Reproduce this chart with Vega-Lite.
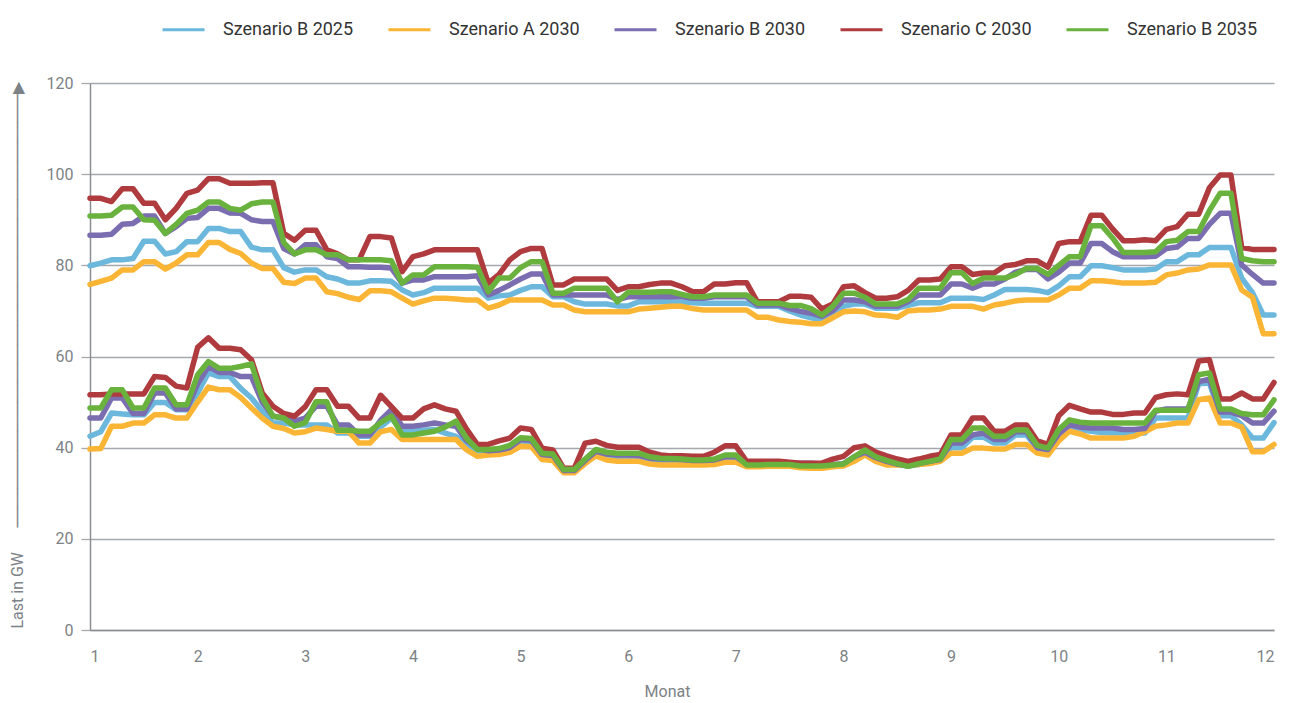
{
"$schema": "https://vega.github.io/schema/vega-lite/v6.json",
"width": 1184, "height": 547,
"autosize": {"type": "none"},
"padding": {"left": 90, "top": 83, "right": 26, "bottom": 73},
"background": "white",
"config": {"view": {"stroke": null}, "font": "Roboto"},
"datasets": {
"upper": [
{"m":1.0,"B25":79.9,"A30":75.8,"B30":86.6,"C30":94.7,"B35":90.8},
{"m":1.1,"B25":80.5,"A30":76.5,"B30":86.6,"C30":94.7,"B35":90.8},
{"m":1.2,"B25":81.2,"A30":77.2,"B30":86.8,"C30":94.0,"B35":91.0},
{"m":1.3,"B25":81.2,"A30":79.0,"B30":89.0,"C30":96.8,"B35":92.8},
{"m":1.4,"B25":81.5,"A30":79.0,"B30":89.2,"C30":96.8,"B35":92.8},
{"m":1.5,"B25":85.3,"A30":80.8,"B30":90.8,"C30":93.6,"B35":90.0},
{"m":1.6,"B25":85.3,"A30":80.8,"B30":90.8,"C30":93.6,"B35":89.9},
{"m":1.7,"B25":82.5,"A30":79.2,"B30":87.0,"C30":90.0,"B35":87.0},
{"m":1.8,"B25":83.0,"A30":80.5,"B30":88.5,"C30":92.5,"B35":89.0},
{"m":1.9,"B25":85.2,"A30":82.3,"B30":90.3,"C30":95.8,"B35":91.4},
{"m":2.0,"B25":85.2,"A30":82.3,"B30":90.5,"C30":96.5,"B35":92.1},
{"m":2.1,"B25":88.1,"A30":85.0,"B30":92.5,"C30":99.0,"B35":93.9},
{"m":2.2,"B25":88.1,"A30":85.0,"B30":92.5,"C30":99.0,"B35":93.9},
{"m":2.3,"B25":87.4,"A30":83.5,"B30":91.5,"C30":98.0,"B35":92.5},
{"m":2.4,"B25":87.4,"A30":82.6,"B30":91.4,"C30":98.0,"B35":92.1},
{"m":2.5,"B25":84.0,"A30":80.5,"B30":90.0,"C30":98.0,"B35":93.5},
{"m":2.6,"B25":83.4,"A30":79.3,"B30":89.6,"C30":98.1,"B35":93.9},
{"m":2.7,"B25":83.4,"A30":79.3,"B30":89.6,"C30":98.1,"B35":93.9},
{"m":2.8,"B25":79.5,"A30":76.3,"B30":83.7,"C30":87.0,"B35":85.0},
{"m":2.9,"B25":78.5,"A30":76.0,"B30":82.5,"C30":85.5,"B35":82.5},
{"m":3.0,"B25":79.0,"A30":77.2,"B30":84.5,"C30":87.7,"B35":83.4},
{"m":3.1,"B25":79.0,"A30":77.2,"B30":84.5,"C30":87.7,"B35":83.4},
{"m":3.2,"B25":77.5,"A30":74.2,"B30":81.9,"C30":83.4,"B35":82.3},
{"m":3.3,"B25":77.0,"A30":73.8,"B30":81.5,"C30":82.5,"B35":82.3},
{"m":3.4,"B25":76.1,"A30":73.0,"B30":79.7,"C30":81.2,"B35":81.2},
{"m":3.5,"B25":76.1,"A30":72.5,"B30":79.7,"C30":81.2,"B35":81.2},
{"m":3.6,"B25":76.6,"A30":74.4,"B30":79.6,"C30":86.3,"B35":81.2},
{"m":3.7,"B25":76.6,"A30":74.4,"B30":79.6,"C30":86.3,"B35":81.2},
{"m":3.8,"B25":76.5,"A30":74.2,"B30":79.4,"C30":86.0,"B35":81.0},
{"m":3.9,"B25":74.6,"A30":72.8,"B30":76.1,"C30":78.6,"B35":76.1},
{"m":4.0,"B25":73.5,"A30":71.5,"B30":76.8,"C30":81.9,"B35":77.9},
{"m":4.1,"B25":74.0,"A30":72.2,"B30":76.8,"C30":82.5,"B35":77.9},
{"m":4.2,"B25":75.0,"A30":72.8,"B30":77.5,"C30":83.4,"B35":79.7},
{"m":4.3,"B25":75.0,"A30":72.8,"B30":77.5,"C30":83.4,"B35":79.7},
{"m":4.4,"B25":75.0,"A30":72.6,"B30":77.5,"C30":83.4,"B35":79.7},
{"m":4.5,"B25":75.0,"A30":72.4,"B30":77.5,"C30":83.4,"B35":79.7},
{"m":4.6,"B25":75.0,"A30":72.4,"B30":77.7,"C30":83.4,"B35":79.6},
{"m":4.7,"B25":72.8,"A30":70.6,"B30":73.5,"C30":76.1,"B35":74.2},
{"m":4.8,"B25":73.3,"A30":71.3,"B30":74.5,"C30":78.0,"B35":77.2},
{"m":4.9,"B25":73.5,"A30":72.4,"B30":75.7,"C30":81.2,"B35":77.2},
{"m":5.0,"B25":74.5,"A30":72.4,"B30":77.0,"C30":83.0,"B35":79.5},
{"m":5.1,"B25":75.3,"A30":72.4,"B30":78.1,"C30":83.7,"B35":80.8},
{"m":5.2,"B25":75.3,"A30":72.4,"B30":78.1,"C30":83.7,"B35":80.8},
{"m":5.3,"B25":73.1,"A30":71.3,"B30":73.5,"C30":75.7,"B35":73.9},
{"m":5.4,"B25":73.1,"A30":71.3,"B30":73.5,"C30":75.7,"B35":73.9},
{"m":5.5,"B25":72.0,"A30":70.2,"B30":73.5,"C30":77.0,"B35":75.0},
{"m":5.6,"B25":71.5,"A30":69.8,"B30":73.5,"C30":77.0,"B35":75.0},
{"m":5.7,"B25":71.5,"A30":69.8,"B30":73.5,"C30":77.0,"B35":75.0},
{"m":5.8,"B25":71.5,"A30":69.8,"B30":73.5,"C30":77.0,"B35":75.0},
{"m":5.9,"B25":71.1,"A30":69.8,"B30":72.5,"C30":74.5,"B35":72.0},
{"m":6.0,"B25":71.1,"A30":69.8,"B30":73.1,"C30":75.3,"B35":74.1},
{"m":6.1,"B25":72.0,"A30":70.4,"B30":73.1,"C30":75.3,"B35":74.1},
{"m":6.2,"B25":72.0,"A30":70.6,"B30":73.1,"C30":75.8,"B35":74.1},
{"m":6.3,"B25":72.0,"A30":70.8,"B30":73.1,"C30":76.1,"B35":74.2},
{"m":6.4,"B25":72.0,"A30":71.0,"B30":73.1,"C30":76.1,"B35":74.2},
{"m":6.5,"B25":71.9,"A30":71.0,"B30":73.1,"C30":75.3,"B35":73.6},
{"m":6.6,"B25":71.8,"A30":70.5,"B30":72.8,"C30":74.2,"B35":73.1},
{"m":6.7,"B25":71.7,"A30":70.2,"B30":72.8,"C30":74.2,"B35":73.1},
{"m":6.8,"B25":71.7,"A30":70.2,"B30":73.1,"C30":75.9,"B35":73.5},
{"m":6.9,"B25":71.7,"A30":70.2,"B30":73.1,"C30":75.9,"B35":73.5},
{"m":7.0,"B25":71.7,"A30":70.2,"B30":73.1,"C30":76.2,"B35":73.5},
{"m":7.1,"B25":71.7,"A30":70.2,"B30":73.1,"C30":76.2,"B35":73.5},
{"m":7.2,"B25":71.0,"A30":68.6,"B30":71.3,"C30":72.0,"B35":71.7},
{"m":7.3,"B25":71.0,"A30":68.6,"B30":71.3,"C30":72.0,"B35":71.7},
{"m":7.4,"B25":71.0,"A30":68.0,"B30":71.3,"C30":72.0,"B35":71.7},
{"m":7.5,"B25":70.0,"A30":67.7,"B30":70.5,"C30":73.2,"B35":71.2},
{"m":7.6,"B25":69.1,"A30":67.5,"B30":69.9,"C30":73.2,"B35":71.2},
{"m":7.7,"B25":68.5,"A30":67.2,"B30":69.5,"C30":73.0,"B35":70.5},
{"m":7.8,"B25":68.0,"A30":67.2,"B30":68.8,"C30":70.4,"B35":69.1},
{"m":7.9,"B25":69.0,"A30":68.5,"B30":70.0,"C30":71.5,"B35":71.0},
{"m":8.0,"B25":71.0,"A30":69.8,"B30":72.4,"C30":75.3,"B35":73.9},
{"m":8.1,"B25":71.5,"A30":70.0,"B30":72.4,"C30":75.5,"B35":73.9},
{"m":8.2,"B25":71.5,"A30":69.8,"B30":72.0,"C30":74.0,"B35":73.0},
{"m":8.3,"B25":70.6,"A30":69.1,"B30":71.0,"C30":72.8,"B35":71.5},
{"m":8.4,"B25":70.6,"A30":69.0,"B30":71.0,"C30":72.8,"B35":71.5},
{"m":8.5,"B25":70.6,"A30":68.6,"B30":71.0,"C30":73.1,"B35":71.5},
{"m":8.6,"B25":71.2,"A30":70.0,"B30":72.0,"C30":74.5,"B35":72.5},
{"m":8.7,"B25":71.8,"A30":70.2,"B30":73.5,"C30":76.8,"B35":75.0},
{"m":8.8,"B25":71.8,"A30":70.2,"B30":73.5,"C30":76.8,"B35":75.0},
{"m":8.9,"B25":71.8,"A30":70.4,"B30":73.5,"C30":77.0,"B35":75.0},
{"m":9.0,"B25":72.8,"A30":71.0,"B30":75.9,"C30":79.7,"B35":78.4},
{"m":9.1,"B25":72.8,"A30":71.0,"B30":75.9,"C30":79.7,"B35":78.4},
{"m":9.2,"B25":72.8,"A30":71.0,"B30":75.0,"C30":78.0,"B35":76.0},
{"m":9.3,"B25":72.5,"A30":70.4,"B30":75.9,"C30":78.3,"B35":77.2},
{"m":9.4,"B25":73.5,"A30":71.3,"B30":75.9,"C30":78.3,"B35":77.2},
{"m":9.5,"B25":74.7,"A30":71.7,"B30":77.0,"C30":79.9,"B35":77.2},
{"m":9.6,"B25":74.7,"A30":72.2,"B30":78.5,"C30":80.2,"B35":78.0},
{"m":9.7,"B25":74.7,"A30":72.4,"B30":79.1,"C30":81.0,"B35":79.3},
{"m":9.8,"B25":74.5,"A30":72.4,"B30":79.1,"C30":81.0,"B35":79.3},
{"m":9.9,"B25":74.0,"A30":72.4,"B30":77.0,"C30":79.6,"B35":78.0},
{"m":10.0,"B25":75.5,"A30":73.5,"B30":78.5,"C30":84.8,"B35":80.0},
{"m":10.1,"B25":77.5,"A30":75.0,"B30":80.5,"C30":85.2,"B35":81.9},
{"m":10.2,"B25":77.5,"A30":75.0,"B30":80.5,"C30":85.2,"B35":81.9},
{"m":10.3,"B25":79.9,"A30":76.6,"B30":84.8,"C30":91.0,"B35":88.7},
{"m":10.4,"B25":79.9,"A30":76.6,"B30":84.8,"C30":91.0,"B35":88.7},
{"m":10.5,"B25":79.5,"A30":76.4,"B30":83.0,"C30":88.0,"B35":86.0},
{"m":10.6,"B25":79.0,"A30":76.1,"B30":81.9,"C30":85.4,"B35":82.8},
{"m":10.7,"B25":79.0,"A30":76.1,"B30":81.9,"C30":85.4,"B35":82.8},
{"m":10.8,"B25":79.0,"A30":76.1,"B30":81.9,"C30":85.6,"B35":82.8},
{"m":10.9,"B25":79.2,"A30":76.3,"B30":82.0,"C30":85.4,"B35":83.0},
{"m":11.0,"B25":80.8,"A30":77.9,"B30":83.7,"C30":87.9,"B35":85.2},
{"m":11.1,"B25":80.8,"A30":78.3,"B30":84.0,"C30":88.5,"B35":85.5},
{"m":11.2,"B25":82.3,"A30":79.0,"B30":85.9,"C30":91.2,"B35":87.4},
{"m":11.3,"B25":82.3,"A30":79.2,"B30":85.9,"C30":91.2,"B35":87.4},
{"m":11.4,"B25":83.9,"A30":80.1,"B30":89.0,"C30":97.0,"B35":92.0},
{"m":11.5,"B25":83.9,"A30":80.1,"B30":91.4,"C30":99.8,"B35":95.8},
{"m":11.6,"B25":83.9,"A30":80.1,"B30":91.4,"C30":99.8,"B35":95.8},
{"m":11.7,"B25":77.2,"A30":74.6,"B30":80.1,"C30":83.9,"B35":81.5},
{"m":11.8,"B25":74.0,"A30":73.0,"B30":78.0,"C30":83.5,"B35":81.0},
{"m":11.9,"B25":69.1,"A30":65.0,"B30":76.1,"C30":83.5,"B35":80.8},
{"m":12.0,"B25":69.1,"A30":65.0,"B30":76.1,"C30":83.5,"B35":80.8}
],
"lower": [
{"m":1.0,"B25":42.5,"A30":39.7,"B30":46.5,"C30":51.6,"B35":48.7},
{"m":1.1,"B25":43.5,"A30":39.8,"B30":46.5,"C30":51.6,"B35":48.7},
{"m":1.2,"B25":47.6,"A30":44.7,"B30":50.9,"C30":51.8,"B35":52.7},
{"m":1.3,"B25":47.4,"A30":44.7,"B30":50.9,"C30":51.8,"B35":52.7},
{"m":1.4,"B25":47.2,"A30":45.4,"B30":47.5,"C30":51.8,"B35":48.7},
{"m":1.5,"B25":47.2,"A30":45.4,"B30":47.5,"C30":51.8,"B35":48.7},
{"m":1.6,"B25":49.9,"A30":47.2,"B30":52.0,"C30":55.6,"B35":53.1},
{"m":1.7,"B25":49.9,"A30":47.2,"B30":52.0,"C30":55.4,"B35":53.1},
{"m":1.8,"B25":48.3,"A30":46.5,"B30":48.5,"C30":53.5,"B35":49.4},
{"m":1.9,"B25":48.3,"A30":46.5,"B30":48.5,"C30":53.1,"B35":49.4},
{"m":2.0,"B25":52.0,"A30":50.0,"B30":54.0,"C30":62.0,"B35":56.0},
{"m":2.1,"B25":56.4,"A30":53.3,"B30":57.8,"C30":64.1,"B35":58.9},
{"m":2.2,"B25":55.6,"A30":52.7,"B30":56.5,"C30":61.8,"B35":57.4},
{"m":2.3,"B25":55.6,"A30":52.7,"B30":56.5,"C30":61.8,"B35":57.4},
{"m":2.4,"B25":53.0,"A30":51.0,"B30":55.6,"C30":61.5,"B35":57.8},
{"m":2.5,"B25":50.9,"A30":48.7,"B30":55.6,"C30":59.3,"B35":58.4},
{"m":2.6,"B25":48.0,"A30":46.5,"B30":50.0,"C30":52.0,"B35":51.0},
{"m":2.7,"B25":45.4,"A30":44.7,"B30":46.9,"C30":49.1,"B35":46.9},
{"m":2.8,"B25":45.4,"A30":44.2,"B30":46.5,"C30":47.5,"B35":46.5},
{"m":2.9,"B25":45.0,"A30":43.2,"B30":45.8,"C30":46.9,"B35":44.7},
{"m":3.0,"B25":45.0,"A30":43.5,"B30":46.5,"C30":49.0,"B35":45.5},
{"m":3.1,"B25":45.0,"A30":44.3,"B30":49.1,"C30":52.7,"B35":50.1},
{"m":3.2,"B25":45.0,"A30":44.0,"B30":49.1,"C30":52.7,"B35":50.1},
{"m":3.3,"B25":43.2,"A30":43.6,"B30":45.0,"C30":49.1,"B35":43.8},
{"m":3.4,"B25":43.2,"A30":43.6,"B30":45.0,"C30":49.1,"B35":43.8},
{"m":3.5,"B25":42.5,"A30":41.0,"B30":42.8,"C30":46.5,"B35":43.6},
{"m":3.6,"B25":42.5,"A30":41.0,"B30":42.8,"C30":46.5,"B35":43.6},
{"m":3.7,"B25":44.5,"A30":43.5,"B30":46.0,"C30":51.5,"B35":45.5},
{"m":3.8,"B25":46.5,"A30":44.0,"B30":48.3,"C30":49.0,"B35":46.9},
{"m":3.9,"B25":43.6,"A30":41.8,"B30":44.7,"C30":46.5,"B35":42.8},
{"m":4.0,"B25":43.6,"A30":41.8,"B30":44.7,"C30":46.5,"B35":42.8},
{"m":4.1,"B25":43.8,"A30":41.8,"B30":45.0,"C30":48.5,"B35":43.2},
{"m":4.2,"B25":44.0,"A30":41.8,"B30":45.4,"C30":49.4,"B35":43.6},
{"m":4.3,"B25":43.2,"A30":41.8,"B30":45.0,"C30":48.5,"B35":44.5},
{"m":4.4,"B25":42.5,"A30":41.8,"B30":44.7,"C30":48.0,"B35":45.8},
{"m":4.5,"B25":40.5,"A30":39.5,"B30":41.5,"C30":44.0,"B35":42.0},
{"m":4.6,"B25":39.3,"A30":38.1,"B30":39.9,"C30":40.7,"B35":39.6},
{"m":4.7,"B25":39.0,"A30":38.4,"B30":39.3,"C30":40.7,"B35":39.6},
{"m":4.8,"B25":39.2,"A30":38.5,"B30":39.5,"C30":41.5,"B35":39.8},
{"m":4.9,"B25":39.8,"A30":39.0,"B30":40.0,"C30":42.1,"B35":40.5},
{"m":5.0,"B25":41.5,"A30":40.3,"B30":41.8,"C30":44.3,"B35":42.2},
{"m":5.1,"B25":41.2,"A30":40.2,"B30":41.6,"C30":44.0,"B35":42.0},
{"m":5.2,"B25":38.2,"A30":37.4,"B30":38.5,"C30":39.9,"B35":38.8},
{"m":5.3,"B25":38.0,"A30":37.2,"B30":38.3,"C30":39.5,"B35":38.6},
{"m":5.4,"B25":34.8,"A30":34.5,"B30":35.0,"C30":35.5,"B35":35.2},
{"m":5.5,"B25":34.8,"A30":34.5,"B30":35.0,"C30":35.5,"B35":35.2},
{"m":5.6,"B25":37.0,"A30":36.5,"B30":37.2,"C30":41.0,"B35":37.5},
{"m":5.7,"B25":38.8,"A30":38.2,"B30":39.2,"C30":41.4,"B35":39.6},
{"m":5.8,"B25":38.0,"A30":37.3,"B30":38.6,"C30":40.5,"B35":39.0},
{"m":5.9,"B25":37.8,"A30":37.0,"B30":38.4,"C30":40.1,"B35":38.8},
{"m":6.0,"B25":37.8,"A30":37.0,"B30":38.4,"C30":40.1,"B35":38.8},
{"m":6.1,"B25":37.6,"A30":37.0,"B30":38.3,"C30":40.1,"B35":38.8},
{"m":6.2,"B25":37.0,"A30":36.4,"B30":37.7,"C30":39.0,"B35":38.0},
{"m":6.3,"B25":37.0,"A30":36.2,"B30":37.5,"C30":38.4,"B35":37.7},
{"m":6.4,"B25":37.0,"A30":36.2,"B30":37.5,"C30":38.2,"B35":37.6},
{"m":6.5,"B25":36.9,"A30":36.2,"B30":37.4,"C30":38.2,"B35":37.5},
{"m":6.6,"B25":36.8,"A30":36.2,"B30":37.2,"C30":38.1,"B35":37.3},
{"m":6.7,"B25":36.8,"A30":36.2,"B30":37.2,"C30":38.1,"B35":37.3},
{"m":6.8,"B25":37.0,"A30":36.3,"B30":37.3,"C30":39.0,"B35":37.5},
{"m":6.9,"B25":37.6,"A30":36.8,"B30":38.0,"C30":40.4,"B35":38.4},
{"m":7.0,"B25":37.6,"A30":36.8,"B30":38.0,"C30":40.4,"B35":38.4},
{"m":7.1,"B25":36.2,"A30":35.8,"B30":36.4,"C30":37.0,"B35":36.2},
{"m":7.2,"B25":36.2,"A30":35.8,"B30":36.4,"C30":37.0,"B35":36.2},
{"m":7.3,"B25":36.3,"A30":35.9,"B30":36.5,"C30":37.0,"B35":36.3},
{"m":7.4,"B25":36.3,"A30":35.9,"B30":36.5,"C30":37.0,"B35":36.3},
{"m":7.5,"B25":36.3,"A30":35.9,"B30":36.5,"C30":36.8,"B35":36.3},
{"m":7.6,"B25":36.3,"A30":35.6,"B30":36.6,"C30":36.6,"B35":36.0},
{"m":7.7,"B25":36.2,"A30":35.5,"B30":36.6,"C30":36.6,"B35":36.0},
{"m":7.8,"B25":36.2,"A30":35.5,"B30":36.4,"C30":36.6,"B35":36.0},
{"m":7.9,"B25":36.2,"A30":35.8,"B30":36.3,"C30":37.5,"B35":36.2},
{"m":8.0,"B25":36.3,"A30":36.0,"B30":36.5,"C30":38.1,"B35":36.4},
{"m":8.1,"B25":37.6,"A30":37.0,"B30":38.0,"C30":40.0,"B35":38.0},
{"m":8.2,"B25":38.8,"A30":38.4,"B30":39.0,"C30":40.4,"B35":39.5},
{"m":8.3,"B25":37.5,"A30":37.0,"B30":37.8,"C30":39.0,"B35":38.0},
{"m":8.4,"B25":36.8,"A30":36.2,"B30":37.0,"C30":38.2,"B35":37.2},
{"m":8.5,"B25":36.3,"A30":36.2,"B30":36.4,"C30":37.5,"B35":36.5},
{"m":8.6,"B25":36.0,"A30":36.2,"B30":36.0,"C30":37.0,"B35":35.9},
{"m":8.7,"B25":36.3,"A30":36.3,"B30":36.5,"C30":37.5,"B35":36.5},
{"m":8.8,"B25":36.8,"A30":36.5,"B30":37.0,"C30":38.1,"B35":37.0},
{"m":8.9,"B25":37.2,"A30":37.0,"B30":37.4,"C30":38.5,"B35":37.5},
{"m":9.0,"B25":40.0,"A30":38.8,"B30":41.0,"C30":42.8,"B35":41.8},
{"m":9.1,"B25":40.0,"A30":38.8,"B30":41.0,"C30":42.8,"B35":41.8},
{"m":9.2,"B25":42.3,"A30":39.9,"B30":42.8,"C30":46.5,"B35":44.3},
{"m":9.3,"B25":42.3,"A30":39.9,"B30":43.2,"C30":46.5,"B35":44.3},
{"m":9.4,"B25":41.0,"A30":39.7,"B30":41.8,"C30":43.6,"B35":42.5},
{"m":9.5,"B25":41.0,"A30":39.7,"B30":41.8,"C30":43.6,"B35":42.5},
{"m":9.6,"B25":42.8,"A30":40.7,"B30":43.5,"C30":45.0,"B35":43.9},
{"m":9.7,"B25":42.8,"A30":40.7,"B30":43.5,"C30":45.0,"B35":43.9},
{"m":9.8,"B25":39.8,"A30":38.8,"B30":40.0,"C30":41.5,"B35":40.5},
{"m":9.9,"B25":39.3,"A30":38.4,"B30":39.6,"C30":40.7,"B35":39.9},
{"m":10.0,"B25":43.0,"A30":41.5,"B30":43.0,"C30":47.0,"B35":44.0},
{"m":10.1,"B25":44.8,"A30":43.6,"B30":45.0,"C30":49.3,"B35":46.1},
{"m":10.2,"B25":44.0,"A30":43.0,"B30":44.5,"C30":48.5,"B35":45.6},
{"m":10.3,"B25":43.6,"A30":42.1,"B30":44.3,"C30":47.8,"B35":45.4},
{"m":10.4,"B25":43.3,"A30":42.1,"B30":44.3,"C30":47.8,"B35":45.4},
{"m":10.5,"B25":43.2,"A30":42.1,"B30":44.3,"C30":47.3,"B35":45.4},
{"m":10.6,"B25":43.2,"A30":42.1,"B30":44.0,"C30":47.3,"B35":45.4},
{"m":10.7,"B25":43.2,"A30":42.5,"B30":44.0,"C30":47.6,"B35":45.4},
{"m":10.8,"B25":43.2,"A30":43.5,"B30":44.2,"C30":47.6,"B35":45.4},
{"m":10.9,"B25":46.5,"A30":44.7,"B30":48.0,"C30":51.0,"B35":48.2},
{"m":11.0,"B25":46.5,"A30":45.0,"B30":48.5,"C30":51.6,"B35":48.2},
{"m":11.1,"B25":46.5,"A30":45.4,"B30":48.5,"C30":51.8,"B35":48.2},
{"m":11.2,"B25":46.5,"A30":45.4,"B30":48.5,"C30":51.6,"B35":48.2},
{"m":11.3,"B25":54.0,"A30":50.5,"B30":54.5,"C30":59.0,"B35":56.0},
{"m":11.4,"B25":54.2,"A30":50.9,"B30":55.0,"C30":59.3,"B35":56.4},
{"m":11.5,"B25":47.0,"A30":45.4,"B30":47.8,"C30":50.7,"B35":48.5},
{"m":11.6,"B25":47.0,"A30":45.4,"B30":47.8,"C30":50.7,"B35":48.5},
{"m":11.7,"B25":45.0,"A30":44.5,"B30":47.0,"C30":52.0,"B35":47.5},
{"m":11.8,"B25":42.1,"A30":39.1,"B30":45.4,"C30":50.7,"B35":47.2},
{"m":11.9,"B25":42.1,"A30":39.1,"B30":45.4,"C30":50.7,"B35":47.2},
{"m":12.0,"B25":45.5,"A30":40.7,"B30":48.0,"C30":54.3,"B35":50.5}
]
},
"encoding": {
  "x": {"field": "m", "type": "quantitative",
        "scale": {"domain": [1, 12], "nice": false, "zero": false},
        "axis": {"title": "Monat", "values": [1,2,3,4,5,6,7,8,9,10,11,12], "format": "d",
                 "grid": false, "ticks": false, "domainColor": "#8a8f93", "domainWidth": 1.5,
                 "labelColor": "#7d8286", "labelFontSize": 16, "labelFont": "Roboto", "labelPadding": 18,
                 "titleColor": "#7d8286", "titleFontSize": 16, "titleFont": "Roboto", "titleFontWeight": "normal",
                 "titlePadding": 19, "titleX": 577}},
  "y": {"field": "GW", "type": "quantitative",
        "scale": {"domain": [0, 120], "nice": false},
        "axis": {"title": "Last in GW\u2003\u2002─────────────────────────────────────────────▶",
                 "titleAngle": -90, "titleX": -73, "titleY": 545, "titleAlign": "left", "titleBaseline": "middle",
                 "titleColor": "#7d8286", "titleFontSize": 16, "titleFont": "Roboto, DejaVu Sans", "titleFontWeight": "normal",
                 "values": [0,20,40,60,80,100,120], "grid": true, "gridColor": "#a5a9ad", "gridWidth": 1.3,
                 "domainColor": "#8a8f93", "domainWidth": 1.5, "tickColor": "#a5a9ad", "tickSize": 9, "tickWidth": 1.3,
                 "labelColor": "#7d8286", "labelFontSize": 16, "labelFont": "Roboto", "labelPadding": 8}},
  "color": {"field": "Szenario", "type": "nominal",
            "scale": {"domain": ["B25", "A30", "B30", "C30", "B35"],
                      "range": ["#6cb8dc", "#fbb534", "#7a6db0", "#af3b3f", "#6ab23e"]},
            "legend": {"orient": "none", "legendX": 71, "legendY": -76, "direction": "horizontal", "title": null,
                       "symbolType": "stroke", "symbolSize": 1764, "symbolStrokeWidth": 3,
                       "labelFont": "Roboto", "labelFontSize": 18, "labelColor": "#333333", "labelOffset": 17,
                       "columnPadding": 28, "labelLimit": 300,
                       "labelExpr": "datum.label == 'B25' ? 'Szenario B 2025' : datum.label == 'A30' ? 'Szenario A 2030' : datum.label == 'B30' ? 'Szenario B 2030' : datum.label == 'C30' ? 'Szenario C 2030' : 'Szenario B 2035'"}}
},
"layer": [
  {"data": {"name": "upper"},
   "transform": [{"fold": ["B25", "A30", "B30", "C30", "B35"], "as": ["Szenario", "GW"]}],
   "mark": {"type": "line", "strokeWidth": 5.5, "strokeJoin": "round", "strokeCap": "round"}},
  {"data": {"name": "lower"},
   "transform": [{"fold": ["B25", "A30", "B30", "C30", "B35"], "as": ["Szenario", "GW"]}],
   "mark": {"type": "line", "strokeWidth": 5.5, "strokeJoin": "round", "strokeCap": "round"}}
]
}
